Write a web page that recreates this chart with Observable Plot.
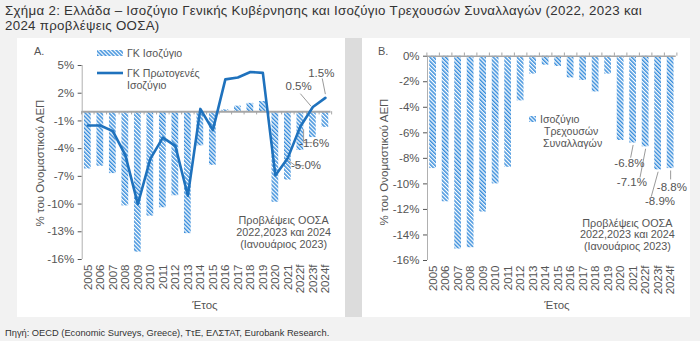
<!DOCTYPE html>
<html><head><meta charset="utf-8">
<script src="https://cdn.jsdelivr.net/npm/d3@7"></script>
<script src="https://cdn.jsdelivr.net/npm/@observablehq/plot@0.6"></script>
<style>
body{margin:0;width:700px;height:341px;background:#f2f2f2;font-family:"Liberation Sans",Arial,sans-serif;position:relative;overflow:hidden;color:#404040}
.abs{position:absolute;white-space:nowrap}
.tl{left:5px;font-size:13.3px;line-height:15px;color:#333;letter-spacing:0.3px}
.panel{position:absolute;top:38px;width:328px;height:279px;background:#fff}
#gap{position:absolute;left:345px;top:38px;width:17px;height:279px;background:#dcdcdc}
.ylab{font-size:11.5px;color:#555;transform:translate(-50%,-50%) rotate(-90deg)}
.xlab{font-size:11.5px;color:#555;transform:translate(-50%,-50%)}
.pl{font-size:11px;color:#555}
.leg{font-size:10.6px;color:#555;line-height:11px}
#foot{left:5px;top:327.5px;font-size:9.3px;color:#333}
</style></head>
<body>
<div class="abs tl" style="top:3px">Σχήμα 2: Ελλάδα – Ισοζύγιο Γενικής Κυβέρνησης και Ισοζύγιο Τρεχουσών Συναλλαγών (2022, 2023 και</div>
<div class="abs tl" style="top:18px">2024 προβλέψεις ΟΟΣΑ)</div>
<div id="gap"></div>
<div class="panel" id="pA" style="left:17px"></div>
<div class="panel" id="pB" style="left:362px"></div>
<div class="abs pl" style="left:34px;top:45px">A.</div>
<div class="abs pl" style="left:378px;top:45px">B.</div>
<div class="abs ylab" style="left:40px;top:163px">% του Ονομαστικού ΑΕΠ</div>
<div class="abs ylab" style="left:384px;top:162px">% του Ονομαστικού ΑΕΠ</div>
<div class="abs xlab" style="left:205px;top:305px">Έτος</div>
<div class="abs xlab" style="left:557px;top:305px">Έτος</div>
<div class="abs" style="left:97px;top:48px"><svg width="26" height="10" style="display:block"><rect x="0" y="2" width="26" height="6" fill="url(#hatchL)"/></svg></div>
<div class="abs leg" style="left:127px;top:47.5px">ΓΚ Ισοζύγιο</div>
<div class="abs" style="left:97px;top:68px"><svg width="26" height="10" style="display:block"><line x1="0" x2="26" y1="5" y2="5" stroke="#1f72bd" stroke-width="2.6"/></svg></div>
<div class="abs leg" style="left:127px;top:67.5px">ΓΚ Πρωτογενές</div>
<div class="abs leg" style="left:127px;top:79.5px">Ισοζύγιο</div>
<div class="abs" style="left:528px;top:114px"><svg width="9" height="10" style="display:block"><defs><pattern id="hatchL" patternUnits="userSpaceOnUse" width="2.8" height="2.8" patternTransform="rotate(-45)"><rect width="2.8" height="2.8" fill="#fff"/><rect width="1.5" height="2.8" fill="#3a8edb"/></pattern></defs><rect x="1" y="2" width="7" height="6" fill="url(#hatchL)"/></svg></div>
<div class="abs leg" style="left:540px;top:114px">Ισοζύγιο</div>
<div class="abs leg" style="left:544px;top:126px">Τρεχουσών</div>
<div class="abs leg" style="left:543px;top:138px">Συναλλαγών</div>
<div id="foot" class="abs">Πηγή: OECD (Economic Surveys, Greece), ΤτΕ, ΕΛΣΤΑΤ, Eurobank Research.</div>
<script>
const years = ["2005","2006","2007","2008","2009","2010","2011","2012","2013","2014","2015","2016","2017","2018","2019","2020","2021","2022f","2023f","2024f"];
const ggBalance = [-6.2,-5.9,-6.7,-10.2,-15.2,-11.3,-10.4,-9.1,-13.2,-3.7,-5.8,0.2,0.6,0.9,1.1,-9.8,-7.4,-4.2,-2.8,-1.7];
const ggPrimary = [-1.5,-1.5,-2.1,-4.7,-10.0,-5.1,-2.8,-3.7,-9.1,0.3,-2.0,3.5,3.7,4.3,4.2,-6.9,-5.0,-1.6,0.5,1.5];
const currentAccount = [-8.8,-11.4,-15.1,-15.0,-12.2,-10.0,-8.7,-3.5,-1.4,-0.7,-0.8,-1.7,-1.9,-2.8,-1.4,-6.6,-6.8,-7.1,-8.9,-8.8];
const yTicksA = [5,2,-1,-4,-7,-10,-13,-16];
const yTicksB = [0,-2,-4,-6,-8,-10,-12,-14,-16];
const forecastNote = "Προβλέψεις ΟΟΣΑ\n2022,2023 και 2024\n(Ιανουάριος 2023)";
// annotations: label, year index, value, label offset (index units, value units)
const annA = [
  {label:"1.5%", i:19, v:1.5, lx:18.67, ly:4.17, anchor:"middle", path:[[18.75,3.6],[19,1.9]]},
  {label:"0.5%", i:18, v:0.5, lx:16.86, ly:2.73, anchor:"middle", path:[[17.0,1.95],[17.85,0.6]]},
  {label:"-1.6%", i:17, v:-1.6, lx:18.1, ly:-3.4, anchor:"start", path:[[17.26,-1.9],[17.26,-3.35],[17.95,-3.35]]},
  {label:"-5.0%", i:16, v:-5.0, lx:17.45, ly:-5.85, anchor:"start", path:[[16.05,-5.3],[16.6,-5.85],[17.3,-5.85]]}
];
const annB = [
  {label:"-6.8%", i:16, v:-6.8, lx:15.7, ly:-8.4, path:[[15.8,-7.95],[16.0,-6.95]]},
  {label:"-7.1%", i:17, v:-7.1, lx:15.9, ly:-9.9, path:[[16.55,-9.5],[17.0,-7.25]]},
  {label:"-8.9%", i:18, v:-8.9, lx:18.15, ly:-11.4, path:[[17.45,-11.0],[18.0,-9.05]]},
  {label:"-8.8%", i:19, v:-8.8, lx:19.1, ly:-10.3, path:[[19.0,-9.65],[19.0,-8.95]]}
];

const idx = years.map((d,i)=>i);
const font = '"Liberation Sans",Arial,sans-serif';
const grey = "#555";

function segs(ann){
  const out=[];
  ann.forEach(a=>{for(let k=0;k<a.path.length-1;k++) out.push({x1:a.path[k][0],y1:a.path[k][1],x2:a.path[k+1][0],y2:a.path[k+1][1]});});
  return out;
}
function addPattern(svg,id){
  const ns="http://www.w3.org/2000/svg";
  const defs=document.createElementNS(ns,"defs");
  defs.innerHTML=`<pattern id="${id}" patternUnits="userSpaceOnUse" width="2.8" height="2.8" patternTransform="rotate(-45)"><rect width="2.8" height="2.8" fill="#fff"/><rect width="1.5" height="2.8" fill="#3a8edb"/></pattern>`;
  svg.insertBefore(defs,svg.firstChild);
}

const dataA = years.map((y,i)=>({i, year:y, gg:ggBalance[i], prim:ggPrimary[i]}));
const svgA = Plot.plot({
  width:328, height:279,
  marginLeft:64.7, marginRight:14.5, marginTop:27, marginBottom:58,
  style:{background:"transparent", fontFamily:font, fontSize:"11.5px", color:grey},
  x:{type:"linear", domain:[-0.45,19.45], ticks:idx, tickFormat:i=>years[i], tickRotate:-90, tickSize:0, tickPadding:5, label:null},
  y:{domain:[-16,5], ticks:yTicksA, tickFormat:d=>d+"%", tickSize:4, tickPadding:4, label:null},
  marks:[
    Plot.ruleX([-0.45],{y1:-16,y2:5,stroke:"#b0b0b0"}),
    Plot.rectY(dataA,{x1:d=>d.i-0.27,x2:d=>d.i+0.27,y1:0,y2:"gg",fill:"url(#hatchA)"}),
    Plot.ruleY([0],{x1:-0.45,x2:19.45,stroke:"#a6a6a6",strokeWidth:2}),
    Plot.ruleX(idx.concat([-1]).map(i=>i+0.5),{y1:0,y2:-0.35,stroke:"#a6a6a6"}),
    Plot.line(dataA,{x:"i",y:"prim",stroke:"#1f72bd",strokeWidth:2.6}),
    Plot.link(segs(annA),{x1:"x1",y1:"y1",x2:"x2",y2:"y2",stroke:"#9a9a9a",strokeWidth:1}),
    Plot.text(annA,{x:"lx",y:"ly",text:"label",textAnchor:"anchor",fill:grey,fontSize:11.5}),
    Plot.text([forecastNote],{x:15.66,y:-13.04,text:d=>d,fill:grey,fontSize:10.8,lineHeight:1.08})
  ]
});
addPattern(svgA,"hatchA");
document.getElementById("pA").appendChild(svgA);

const dataB = years.map((y,i)=>({i, year:y, ca:currentAccount[i]}));
const svgB = Plot.plot({
  width:328, height:279,
  marginLeft:65, marginRight:14.25, marginTop:17.7, marginBottom:57,
  style:{background:"transparent", fontFamily:font, fontSize:"11.5px", color:grey},
  x:{type:"linear", domain:[-0.45,19.45], ticks:idx, tickFormat:i=>years[i], tickRotate:-90, tickSize:0, tickPadding:5, label:null},
  y:{domain:[-16,0], ticks:yTicksB, tickFormat:d=>d+"%", tickSize:4, tickPadding:4, label:null},
  marks:[
    Plot.ruleX([-0.45],{y1:-16,y2:0,stroke:"#b0b0b0"}),
    Plot.rectY(dataB,{x1:d=>d.i-0.27,x2:d=>d.i+0.27,y1:0,y2:"ca",fill:"url(#hatchB)"}),
    Plot.ruleY([0],{x1:-0.45,x2:19.45,stroke:"#a6a6a6",strokeWidth:1.5}),
    Plot.ruleX(idx.concat([-1]).map(i=>i+0.5),{y1:0,y2:0.25,stroke:"#a6a6a6"}),
    Plot.link(segs(annB),{x1:"x1",y1:"y1",x2:"x2",y2:"y2",stroke:"#9a9a9a",strokeWidth:1}),
    Plot.text(annB,{x:"lx",y:"ly",text:"label",fill:grey,fontSize:11.5}),
    Plot.text([forecastNote],{x:15.54,y:-13.96,text:d=>d,fill:grey,fontSize:10.8,lineHeight:1.08})
  ]
});
addPattern(svgB,"hatchB");
document.getElementById("pB").appendChild(svgB);
</script>
</body></html>
